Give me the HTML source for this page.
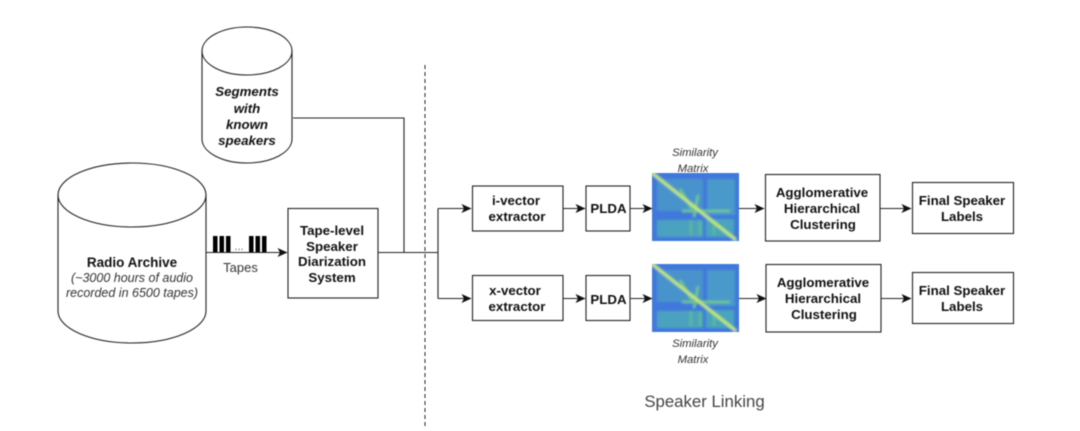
<!DOCTYPE html>
<html><head><meta charset="utf-8"><style>
html,body{margin:0;padding:0;background:#fff}
svg{display:block;filter:blur(.45px)}
text{font-family:"Liberation Sans",sans-serif;fill:#111;text-anchor:middle}
.b{font-weight:bold;font-size:13.3px}
.it{font-style:italic}
.i{font-style:italic;font-size:12.5px;fill:#333}
.m{font-style:italic;font-size:11.3px;fill:#333}
.s{fill:#fff;stroke:#222;stroke-width:1.1}
.l{fill:none;stroke:#222;stroke-width:1.1}
</style></head><body>
<svg width="1080" height="431" viewBox="0 0 1080 431" xmlns="http://www.w3.org/2000/svg">
<defs>
<marker id="a" markerWidth="11" markerHeight="10" refX="9.500" refY="5" orient="auto" markerUnits="userSpaceOnUse"><path d="M0 .5L10 5L0 9.500L2.500 5Z" fill="#111"/></marker>
<filter id="bl" x="-5%" y="-5%" width="110%" height="110%"><feGaussianBlur stdDeviation="1"/></filter>
<clipPath id="cp"><rect width="87" height="68"/></clipPath>
<g id="hm"><g clip-path="url(#cp)"><g filter="url(#bl)">
<rect x="-3" y="-3" width="93" height="74" fill="#3f78dc"/>
<rect x="5" y="6" width="46" height="32" fill="#4a93cc"/>
<rect x="55" y="6" width="28" height="36" fill="#4a9acb"/>
<rect x="5" y="47" width="46" height="17" fill="#4ba2c0"/>
<rect x="54" y="46" width="28" height="18" fill="#4aa4bd"/>
<path d="M30 38H78M46 22L42 44M28 16L40 36" stroke="#72c88a" stroke-width="2.5" fill="none"/>
<path d="M39 47V62M62 48V62M48 48V62" stroke="#5fbb90" stroke-width="2.500" fill="none"/>
<path d="M0 0L84 67" stroke="#c8ee68" stroke-width="2.800" fill="none"/>
</g></g></g>
</defs>

<path class="s" d="M58 195A74 32 0 0 1 206 195V311A74 32 0 0 1 58 311Z"/>
<path class="l" d="M58 195A74 32 0 0 0 206 195"/>
<path class="s" d="M202 51A45 24 0 0 1 292 51V139A45 24 0 0 1 202 139Z"/>
<path class="l" d="M202 51A45 24 0 0 0 292 51"/>

<text class="b it" x="247" y="96">Segments</text>
<text class="b it" x="247" y="113">with</text>
<text class="b it" x="247" y="129">known</text>
<text class="b it" x="247" y="145">speakers</text>

<text class="b" x="132" y="267" style="font-size:13.500px">Radio Archive</text>
<text class="i" x="132" y="282">(~3000 hours of audio</text>
<text class="i" x="132" y="297">recorded in 6500 tapes)</text>

<path d="M213 236h4.500v16h-4.500zM219.500 236h4.500v16h-4.500zM226 236h4.500v16h-4.500zM249 236h4.500v16h-4.500zM255.500 236h4.500v16h-4.500zM262 236h4.500v16h-4.500z" fill="#000"/>
<text x="239" y="250" style="font-size:11px;fill:#555">...</text>
<text x="240.500" y="272" style="font-size:13px;fill:#333">Tapes</text>
<path class="l" d="M206 252.500H287" marker-end="url(#a)"/>

<rect class="s" x="288" y="208.500" width="90" height="89.500"/>
<text class="b" x="332" y="235">Tape-level</text>
<text class="b" x="332" y="251">Speaker</text>
<text class="b" x="332" y="266">Diarization</text>
<text class="b" x="332" y="282">System</text>

<path class="l" d="M293 118H404V252.500M378 252.500H438"/>
<path d="M425 65V427" fill="none" stroke="#222" stroke-width="1" stroke-dasharray="4 3"/>
<path class="l" d="M438 208.500V298.500"/>
<path class="l" d="M438 208.500H471" marker-end="url(#a)"/>
<path class="l" d="M438 298.500H471" marker-end="url(#a)"/>

<rect class="s" x="472.500" y="186" width="90.500" height="45"/>
<text class="b" x="516" y="205">i-vector</text>
<text class="b" x="517" y="221">extractor</text>
<rect class="s" x="472.500" y="275.500" width="90.500" height="45"/>
<text class="b" x="515" y="295">x-vector</text>
<text class="b" x="517" y="311">extractor</text>

<rect class="s" x="586" y="186" width="44" height="45"/>
<text class="b" x="608.500" y="213" style="font-size:13.300px">PLDA</text>
<rect class="s" x="586" y="275.500" width="44" height="45"/>
<text class="b" x="608.500" y="304" style="font-size:13.300px">PLDA</text>

<path class="l" d="M563 208.500H585" marker-end="url(#a)"/>
<path class="l" d="M563 298.500H585" marker-end="url(#a)"/>
<path class="l" d="M630 208.500H652" marker-end="url(#a)"/>
<path class="l" d="M630 298.500H652" marker-end="url(#a)"/>

<use href="#hm" x="652" y="173"/>
<use href="#hm" x="652" y="264"/>

<text class="m" x="695" y="156">Similarity</text>
<text class="m" x="693" y="172">Matrix</text>
<text class="m" x="695" y="347">Similarity</text>
<text class="m" x="693" y="363">Matrix</text>

<path class="l" d="M739 208.500H764" marker-end="url(#a)"/>
<path class="l" d="M739 298.500H766" marker-end="url(#a)"/>

<rect class="s" x="765.500" y="174.500" width="114.500" height="66.500"/>
<text class="b" x="822" y="197">Agglomerative</text>
<text class="b" x="822" y="213">Hierarchical</text>
<text class="b" x="823" y="229">Clustering</text>
<rect class="s" x="766" y="264.500" width="115" height="67.500"/>
<text class="b" x="823" y="287">Agglomerative</text>
<text class="b" x="823" y="303">Hierarchical</text>
<text class="b" x="824" y="319">Clustering</text>

<path class="l" d="M880 208.500H911" marker-end="url(#a)"/>
<path class="l" d="M881 298.500H911" marker-end="url(#a)"/>

<rect class="s" x="912.500" y="182.500" width="101" height="51"/>
<text class="b" x="962" y="205">Final Speaker</text>
<text class="b" x="962" y="221">Labels</text>
<rect class="s" x="912.500" y="272.500" width="101" height="51"/>
<text class="b" x="962" y="295">Final Speaker</text>
<text class="b" x="962" y="311">Labels</text>

<text x="704.500" y="407" style="font-size:16.800px;fill:#444">Speaker Linking</text>
</svg>
</body></html>
